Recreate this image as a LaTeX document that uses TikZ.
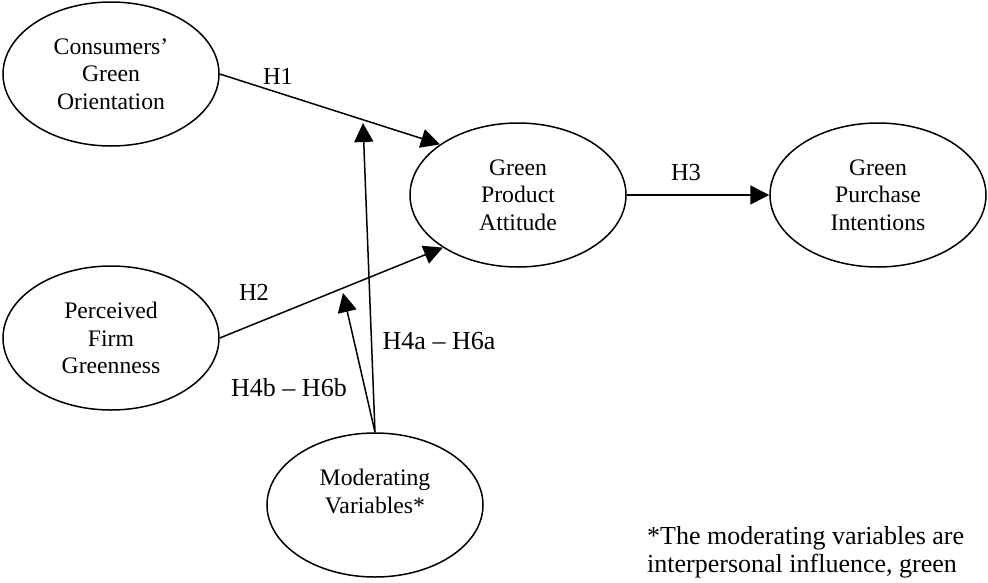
\documentclass[tikz,border=0pt]{standalone}
\usepackage{fontspec}
\setmainfont{Liberation Serif}
\usetikzlibrary{shapes.geometric,arrows.meta}
\begin{document}
\begin{tikzpicture}[x=1pt,y=-1pt,
  ell/.style={draw,ellipse,line width=1.5pt,minimum width=216pt,minimum height=144pt,inner sep=0pt,align=center,
    font=\fontsize{23.7}{27.3}\selectfont},
  lbl/.style={font=\fontsize{24.5}{28}\selectfont,inner sep=0pt},
  lblb/.style={font=\fontsize{26}{28}\selectfont,inner sep=0pt},
  arr/.style={line width=1.5pt,-{Triangle[length=19pt,width=19pt]}}]
\useasboundingbox (0,0) rectangle (988,582);
\node[ell] (cgo) at (111,74) {Consumers’\\Green\\Orientation};
\node[ell] (pfg) at (111,338) {Perceived\\Firm\\Greenness};
\node[ell] (gpa) at (518,195) {Green\\Product\\Attitude};
\node[ell] (gpi) at (878,195) {Green\\Purchase\\Intentions};
\node[ell] (mod) at (375,505) {Moderating\\Variables*\\\mbox{}};
\coordinate (ta) at (363,123);
\coordinate (tb) at (343,293);
\draw[arr] (cgo.east) -- (gpa.147);
\draw[arr] (pfg.east) -- (gpa.215);
\draw[arr] (gpa.east) -- (gpi.west);
\draw[arr] (mod.north) -- (ta);
\draw[arr] (mod.north) -- (tb);
\node[lbl] (h1) at (278,76) {H1};
\node[lbl] (h2) at (254,292) {H2};
\node[lbl] (h3) at (686,173) {H3};
\node[lblb] (h4a) at (439,341) {H4a – H6a};
\node[lblb] (h4b) at (289,388) {H4b – H6b};
\node[lblb,anchor=base west,align=left] (note) at (647,572) {*The moderating variables are\\interpersonal influence, green};
\end{tikzpicture}
\end{document}
